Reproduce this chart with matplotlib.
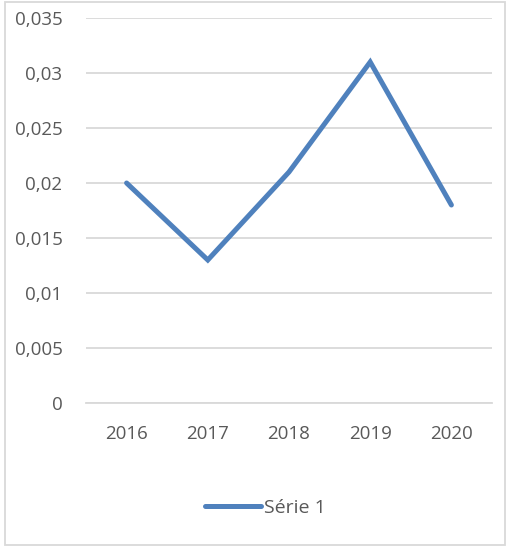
import matplotlib.pyplot as plt
from matplotlib.patches import Rectangle
from matplotlib.ticker import FuncFormatter

years = ['2016', '2017', '2018', '2019', '2020']
serie1 = [0.020, 0.013, 0.021, 0.031, 0.018]
yticks = [0, 0.005, 0.01, 0.015, 0.02, 0.025, 0.03, 0.035]

plt.rcParams['font.family'] = ['Open Sans', 'DejaVu Sans']
txt = '#595959'
grid = '#D9D9D9'

fig = plt.figure(figsize=(5.10, 5.47), dpi=100)
ax = fig.add_axes([86/510, 1-403/547, 406/510, 385/547])

x = range(len(years))
ax.plot(x, serie1, color='#4F81BD', lw=3.6, solid_capstyle='round',
        solid_joinstyle='miter', label='Série 1')

ax.set_xlim(-0.5, len(years)-0.5)
ax.set_ylim(0, 0.035)
ax.set_yticks(yticks)
ax.yaxis.set_major_formatter(FuncFormatter(lambda v, p: ('%g' % round(v, 4)).replace('.', ',')))
ax.set_xticks(list(x))
ax.set_xticklabels(years)
ax.grid(axis='y', color=grid, lw=1.3)
ax.set_axisbelow(True)
for s in ['top', 'right', 'left']:
    ax.spines[s].set_visible(False)
ax.spines['bottom'].set_color(grid)
ax.spines['bottom'].set_linewidth(1.3)
ax.tick_params(length=0, labelsize=13.5, colors=txt)
ax.tick_params(axis='y', pad=17)
ax.tick_params(axis='x', pad=16)

leg = fig.legend(loc='center', bbox_to_anchor=(0.52, 1-508/547), frameon=False,
                 fontsize=14, handlelength=2.9, handletextpad=0.15)
for t in leg.get_texts():
    t.set_color(txt)

fig.patches.append(Rectangle((5/510, 2/547), 500/510, 543/547, transform=fig.transFigure,
                             fill=False, edgecolor=grid, lw=1.3))

plt.savefig('out.png', dpi=100)
